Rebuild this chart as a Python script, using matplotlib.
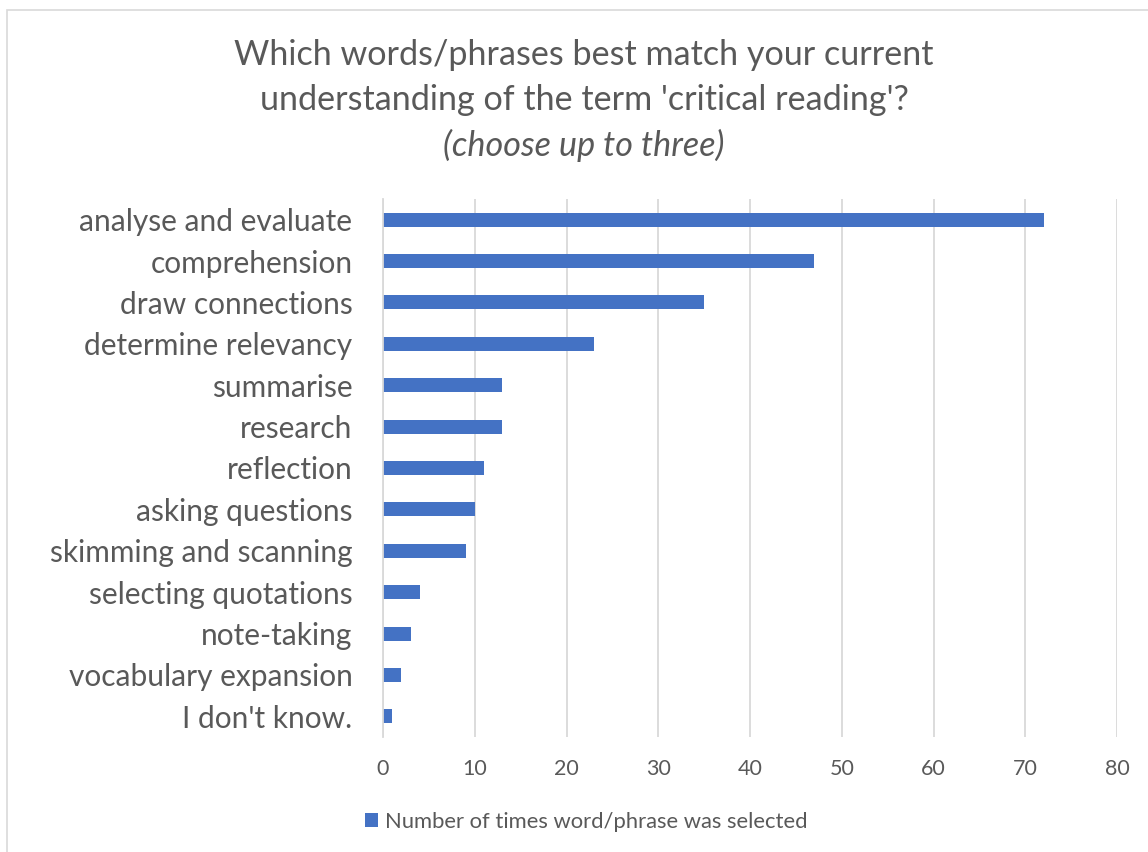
import matplotlib.pyplot as plt
from matplotlib.patches import Rectangle

categories = ["analyse and evaluate", "comprehension", "draw connections",
              "determine relevancy", "summarise", "research", "reflection",
              "asking questions", "skimming and scanning", "selecting quotations",
              "note-taking", "vocabulary expansion", "I don't know."]
counts = [72, 47, 35, 23, 13, 13, 11, 10, 9, 4, 3, 2, 1]
x_ticks = [0, 10, 20, 30, 40, 50, 60, 70, 80]
series_name = "Number of times word/phrase was selected"

plt.rcParams["font.family"] = ["Lato", "DejaVu Sans"]
text_col = "#595959"
bar_col = "#4472C4"

fig = plt.figure(figsize=(11.48, 8.52), dpi=100)
fig.patches.append(Rectangle((7 / 1148, -0.1), 1.2, 1.1 - 10 / 852, transform=fig.transFigure,
                             fill=False, edgecolor="#D9D9D9", lw=1.2))

ax = fig.add_axes([383 / 1148, 1 - 737 / 852, (1117 - 383) / 1148, (737 - 199) / 852])
ypos = list(range(len(categories)))
ax.barh(ypos, counts, height=0.34, color=bar_col, label=series_name, zorder=3)
ax.set_ylim(len(categories) - 0.5, -0.5)
ax.set_xlim(0, 80)
ax.set_xticks(x_ticks)
ax.set_yticks(ypos)
ax.set_yticklabels(categories, fontsize=21.5, color=text_col)
ax.tick_params(axis="y", length=0, pad=22)
ax.tick_params(axis="x", length=0, pad=16, labelsize=15.5, labelcolor=text_col)
ax.grid(axis="x", color="#D9D9D9", lw=1.3, zorder=0)
for s in ["top", "right", "bottom"]:
    ax.spines[s].set_visible(False)
ax.spines["left"].set_color("#D9D9D9")
ax.spines["left"].set_linewidth(1.3)
ax.spines["left"].set_zorder(4)

fig.text(584 / 1148, 1 - 55 / 852, "Which words/phrases best match your current",
         ha="center", va="center", fontsize=24.6, color=text_col)
fig.text(584 / 1148, 1 - 100 / 852, "understanding of the term 'critical reading'?",
         ha="center", va="center", fontsize=24.6, color=text_col)
fig.text(584 / 1148, 1 - 145 / 852, "(choose up to three)",
         ha="center", va="center", fontsize=24.6, color=text_col, style="italic")

fig.legend(loc="center", bbox_to_anchor=(586 / 1148, 1 - 822 / 852), frameon=False,
           fontsize=15.8, labelcolor=text_col, handlelength=0.6, handleheight=0.6,
           handletextpad=0.3)

fig.savefig("out.png", dpi=100)
